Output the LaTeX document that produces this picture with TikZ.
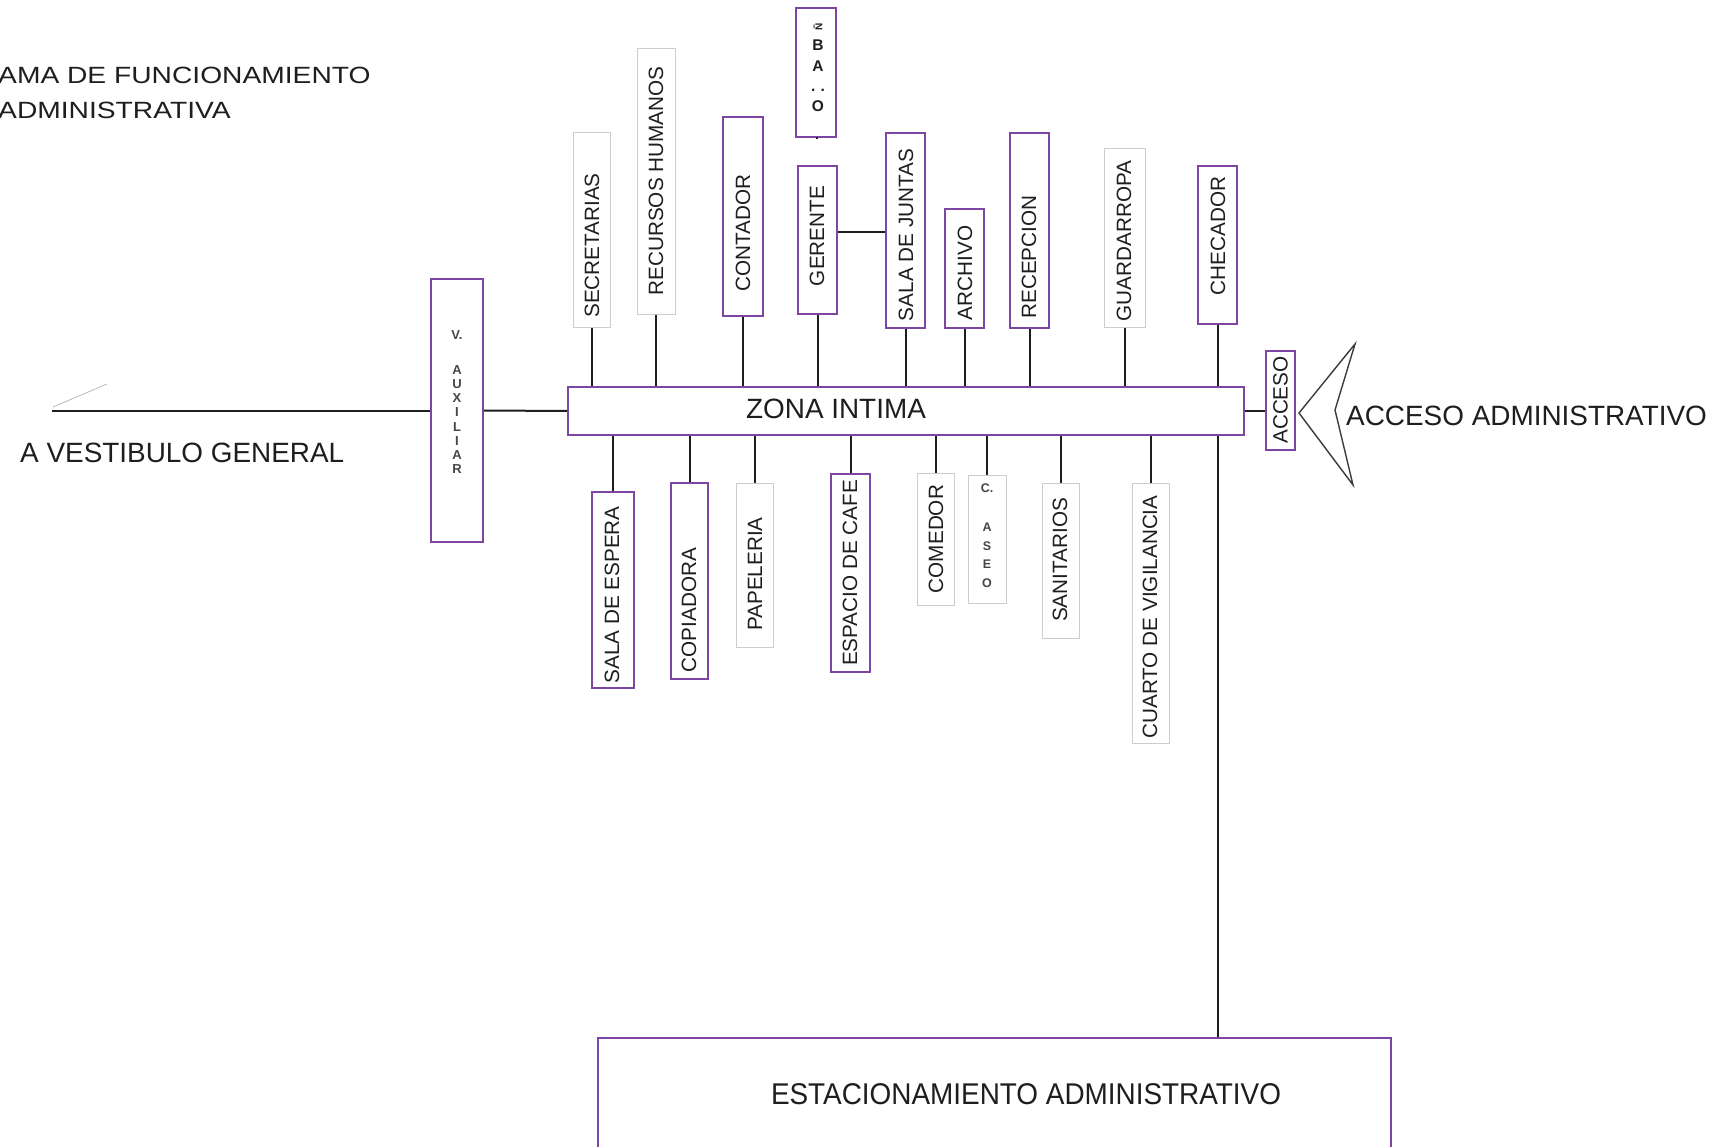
\documentclass[tikz,border=0pt]{standalone}
\usepackage{fontspec}
\setmainfont{Liberation Sans}
\usetikzlibrary{fit,calc}
\definecolor{purp}{RGB}{125,70,165}
\definecolor{lgray}{RGB}{205,205,205}
\definecolor{conncol}{RGB}{30,30,30}
\definecolor{txt}{RGB}{30,30,30}
\definecolor{chevcol}{RGB}{60,60,60}
\definecolor{slant}{RGB}{185,185,185}
\definecolor{smalltxt}{RGB}{70,70,70}
\begin{document}
\begin{tikzpicture}[x=1pt,y=-1pt,
  pbox/.style={draw=purp, line width=1.8pt, inner sep=0pt},
  gbox/.style={draw=lgray, line width=1pt, inner sep=0pt},
  conn/.style={draw=conncol, line width=2pt},
  vlab/.style={rotate=90, font=\fontsize{20.7}{24}\selectfont, text=txt, inner sep=0pt},
  big/.style={font=\fontsize{27.9}{32}\selectfont, text=txt, inner sep=0pt},
  stack/.style={align=center, text=smalltxt, inner sep=0pt}]
\useasboundingbox[fill=white] (0,0) rectangle (1723,1147);
\clip (0,0) rectangle (1723,1147);

% title
\node[anchor=base west, inner sep=0pt, text=txt, font=\fontsize{23.5}{28}\selectfont] (t1) at (-2,83.5) {\scalebox{1.2}[1]{AMA DE FUNCIONAMIENTO}};
\node[anchor=base west, inner sep=0pt, text=txt, font=\fontsize{23.5}{28}\selectfont] (t2) at (-2,118.5) {\scalebox{1.2}[1]{ADMINISTRATIVA}};

% boxes
\node[pbox, fit={(431,279) (483,542)}] (aux) {};
\node[pbox, fit={(796,8) (836,137)}] (bano) {};
\node[gbox, fit={(573,133) (610,328)}] (sec) {};
\node[gbox, fit={(637,49) (675,315)}] (rh) {};
\node[pbox, fit={(723,117) (763,316)}] (cont) {};
\node[pbox, fit={(798,166) (837,314)}] (ger) {};
\node[pbox, fit={(886,133) (925,328)}] (sdj) {};
\node[pbox, fit={(945,209) (984,328)}] (arch) {};
\node[pbox, fit={(1010,133) (1049,328)}] (rec) {};
\node[gbox, fit={(1104,149) (1145,328)}] (guard) {};
\node[pbox, fit={(1198,166) (1237,324)}] (chec) {};
\node[pbox, fit={(568,387) (1244,435)}] (zona) {};
\node[pbox, fit={(1266,351) (1295,450)}] (acc) {};
\node[pbox, fit={(592,492) (634,688)}] (sesp) {};
\node[pbox, fit={(671,483) (708,679)}] (cop) {};
\node[gbox, fit={(736,483) (773,647)}] (pap) {};
\node[pbox, fit={(831,474) (870,672)}] (cafe) {};
\node[gbox, fit={(917,473) (954,605)}] (com) {};
\node[gbox, fit={(968,475) (1006,603)}] (aseo) {};
\node[gbox, fit={(1042,483) (1079,638)}] (san) {};
\node[gbox, fit={(1132,483) (1169,743)}] (vig) {};
\node[pbox, fit={(598,1038) (1391,1175)}] (est) {};

% labels in boxes
\node[vlab] (lsec) at (592,245.5) {SECRETARIAS};
\node[vlab] (lrh) at (656,181) {RECURSOS HUMANOS};
\node[vlab] (lcont) at (743,233) {CONTADOR};
\node[vlab] (lger) at (817,236) {GERENTE};
\node[vlab] (lsdj) at (906,235) {SALA DE JUNTAS};
\node[vlab] (larch) at (965,273) {ARCHIVO};
\node[vlab] (lrec) at (1029,257) {RECEPCION};
\node[vlab] (lguard) at (1124,241) {GUARDARROPA};
\node[vlab] (lchec) at (1218,236) {CHECADOR};
\node[vlab] (lacc) at (1280.5,400) {ACCESO};
\node[vlab] (lsesp) at (612,595) {SALA DE ESPERA};
\node[vlab] (lcop) at (689,610) {COPIADORA};
\node[vlab] (lpap) at (755,574) {PAPELERIA};
\node[vlab] (lcafe) at (850,573) {ESPACIO DE CAFE};
\node[vlab] (lcom) at (936,539) {COMEDOR};
\node[vlab] (lsan) at (1060,560) {SANITARIOS};
\node[vlab] (lvig) at (1150,617) {CUARTO DE VIGILANCIA};

\node[stack, font=\fontsize{13}{14.1}\selectfont\bfseries] (laux) at (457,402) {V.\\[21pt]A\\U\\X\\I\\L\\I\\A\\R};
\node[stack, font=\fontsize{12.5}{18.5}\selectfont\bfseries] (laseo) at (987,535.5) {C.\\[20.5pt]A\\S\\E\\O};
\node[stack, text=txt, font=\fontsize{15.5}{20.2}\selectfont\bfseries] (lbano) at (818,67.5) {\rotatebox{90}{\fontsize{10}{10}\selectfont Ñ}\\B\\A\\.\,\,.\\O};

\node[big] (lzona) at (836,409) {ZONA INTIMA};
\node[big, anchor=base west] (lacad) at (1346,425) {ACCESO ADMINISTRATIVO};
\node[big, anchor=base west] (lvest) at (20,462) {A VESTIBULO GENERAL};
\node[inner sep=0pt, text=txt, font=\fontsize{30}{34}\selectfont] (lest) at (1026,1094) {\scalebox{0.93}[1]{ESTACIONAMIENTO ADMINISTRATIVO}};

% free end and connectors
\coordinate (vest) at (52,410.5);
\draw[conn] (vest) -- (aux.west);
\draw[conn] (aux.east) -- (zona.west);
\draw[conn] (zona.east) -- (zona.east -| acc.west);
\draw[conn] (bano.south) -- (bano.south -| ger.north);
\draw[conn] ([yshift=8pt]ger.east) -- ([yshift=8pt]ger.east -| sdj.west);
\foreach \n in {sec,rh,cont,ger,sdj,arch,rec,guard,chec}
  \draw[conn] (\n.south) -- (\n.south |- zona.north);
\foreach \n in {sesp,cop,pap,cafe,com,aseo,san,vig}
  \draw[conn] (\n.north) -- (\n.north |- zona.south);
\draw[conn] (chec.south |- zona.south) -- (chec.south |- est.north);

% slanted mark and access chevron
\draw[slant, line width=0.8pt] (53,407) -- (107,384);
\draw[chevcol, line width=1.4pt, line join=miter] (1355,344) -- (1299,413) -- (1353,485) -- (1335,410) -- cycle;
\end{tikzpicture}
\end{document}
